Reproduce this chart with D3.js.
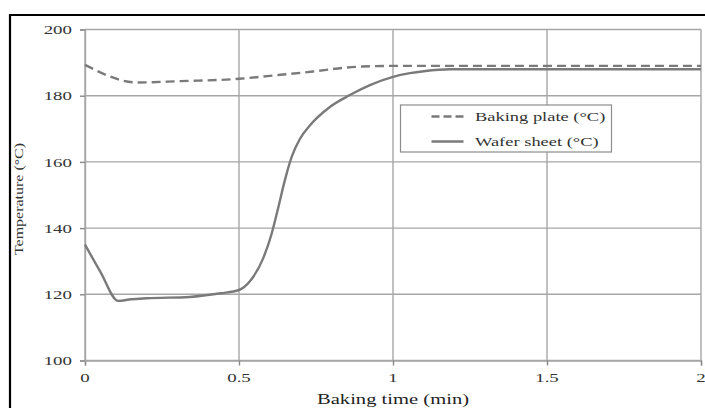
<!DOCTYPE html>
<html>
<head>
<meta charset="utf-8">
<script src="https://cdn.jsdelivr.net/npm/d3@7"></script>
<style>
  html, body { margin: 0; padding: 0; background: #fff; }
  svg { display: block; }
  text { font-family: "Liberation Serif", "Times New Roman", serif; }
</style>
</head>
<body>
<script>
// ---- data ----
const plateTime = [0, 0.17, 0.31, 0.5, 0.6, 0.74, 0.85, 0.9, 1.0, 1.5, 2.0];
const plateTemp = [189.3, 184.0, 184.4, 185.1, 186.0, 187.3, 188.5, 188.8, 189.0, 189.0, 189.0];

const waferTime = [0, 0.05, 0.108, 0.15, 0.2, 0.34, 0.44, 0.5, 0.536, 0.579, 0.606, 0.628, 0.649, 0.671, 0.698, 0.73, 0.795, 0.86, 0.925, 1.0, 1.055, 1.1, 1.185, 1.5, 2.0];
const waferTemp = [135, 126.8, 118, 118.5, 118.8, 119.2, 120.3, 121.3, 124, 131, 138.3, 146.4, 154.5, 161.5, 167, 171, 176.6, 180.2, 183.2, 185.7, 186.8, 187.4, 188.0, 188.0, 188.0];

const xTicks = [0, 0.5, 1, 1.5, 2];
const xTickLabels = ["0", "0.5", "1", "1.5", "2"];
const yTicks = [100, 120, 140, 160, 180, 200];
const yTickLabels = ["100", "120", "140", "160", "180", "200"];

const seriesNames = ["Baking plate (°C)", "Wafer sheet (°C)"];
const xTitle = "Baking time (min)";
const yTitle = "Temperature (°C)";

// ---- layout ----
const W = 705, H = 408;
const SX = 1.42; // horizontal stretch of the original figure's text
const gridColor = "#a6a6a6";
const lineColor = "#7a7a7a";
const textColor = "#333";

const svg = d3.select("body").append("svg").attr("width", W).attr("height", H);

const x = d3.scaleLinear().domain([0, 2]).range([85, 701]);
const y = d3.scaleLinear().domain([100, 200]).range([360.5, 29.5]);

// outer black frame (top and left)
svg.append("line").attr("x1", 10).attr("x2", W).attr("y1", 15).attr("y2", 15)
  .attr("stroke", "#000").attr("stroke-width", 2.2);
svg.append("line").attr("x1", 10).attr("x2", 10).attr("y1", 14).attr("y2", H)
  .attr("stroke", "#000").attr("stroke-width", 2.2);

// grid
const grid = svg.append("g");
grid.selectAll("line.gx").data(xTicks).join("line")
  .attr("x1", d => x(d)).attr("x2", d => x(d))
  .attr("y1", y(200)).attr("y2", y(100))
  .attr("stroke", gridColor).attr("stroke-width", 1.4);
grid.selectAll("line.gy").data(yTicks).join("line")
  .attr("x1", x(0)).attr("x2", x(2))
  .attr("y1", d => y(d)).attr("y2", d => y(d))
  .attr("stroke", gridColor).attr("stroke-width", 1.4);

// axes ticks
const xAxis = d3.axisBottom(x).tickValues(xTicks).tickSize(5).tickFormat("");
const yAxis = d3.axisLeft(y).tickValues(yTicks).tickSize(5).tickFormat("");
const gx = svg.append("g").attr("transform", `translate(0,${y(100)})`).call(xAxis);
const gy = svg.append("g").attr("transform", `translate(${x(0)},0)`).call(yAxis);
[gx, gy].forEach(g => {
  g.select(".domain").attr("stroke", gridColor).attr("stroke-width", 1.4);
  g.selectAll(".tick line").attr("stroke", "#888").attr("stroke-width", 1.4);
});

// stretched text helper
function stext(parent, px, py, str, size, anchor, color, sx, rot) {
  const g = parent.append("g")
    .attr("transform", `translate(${px},${py}) scale(${sx},1)` + (rot ? ` rotate(${rot})` : ""));
  g.append("text").attr("x", 0).attr("y", 0)
    .attr("text-anchor", anchor)
    .attr("font-size", size)
    .attr("fill", color)
    .text(str);
  return g;
}

// tick labels
yTicks.forEach((t, i) => stext(svg, 72, y(t) + 4.6, yTickLabels[i], 13.3, "end", textColor, SX));
xTicks.forEach((t, i) => stext(svg, x(t), 381.5, xTickLabels[i], 13.3, "middle", textColor, SX));

// axis titles
stext(svg, x(1), 404, xTitle, 14.5, "middle", "#222", SX);
stext(svg, 22.5, 199, yTitle, 16, "middle", textColor, 0.8, -90);

// lines
const plate = plateTime.map((t, i) => [t, plateTemp[i]]);
const wafer = waferTime.map((t, i) => [t, waferTemp[i]]);
const line = d3.line().x(d => x(d[0])).y(d => y(d[1])).curve(d3.curveMonotoneX);

svg.append("path").datum(wafer).attr("d", line)
  .attr("fill", "none").attr("stroke", lineColor).attr("stroke-width", 2.4);
svg.append("path").datum(plate).attr("d", line)
  .attr("fill", "none").attr("stroke", lineColor).attr("stroke-width", 2.4)
  .attr("stroke-dasharray", "9,5");

// legend
const lg = svg.append("g");
lg.append("rect").attr("x", 400.5).attr("y", 105).attr("width", 211).attr("height", 47)
  .attr("fill", "#fff").attr("stroke", "#8c8c8c").attr("stroke-width", 1.2);
const legendRows = [{ name: seriesNames[0], dash: "8,4", yy: 116.5 }, { name: seriesNames[1], dash: null, yy: 141.5 }];
legendRows.forEach(r => {
  const l = lg.append("line").attr("x1", 431.5).attr("x2", 463.5).attr("y1", r.yy).attr("y2", r.yy)
    .attr("stroke", lineColor).attr("stroke-width", 2.4);
  if (r.dash) l.attr("stroke-dasharray", r.dash);
  stext(lg, 475, r.yy + 4.5, r.name, 13, "start", "#333", SX);
});
</script>
</body>
</html>
